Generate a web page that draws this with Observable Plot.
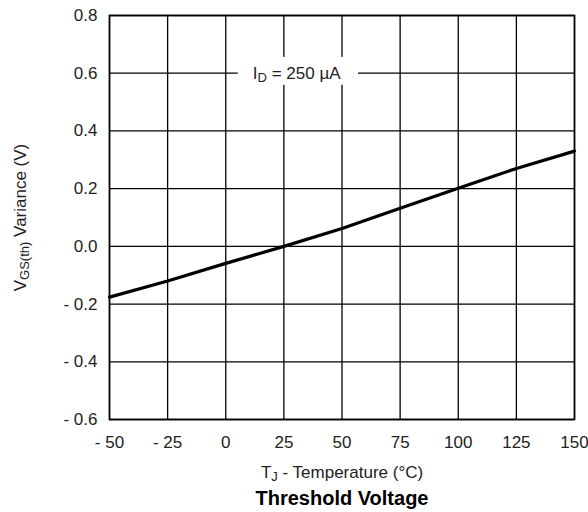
<!DOCTYPE html>
<html>
<head>
<meta charset="utf-8">
<script src="https://cdn.jsdelivr.net/npm/d3@7"></script>
<script src="https://cdn.jsdelivr.net/npm/@observablehq/plot@0.6"></script>
<style>
  html, body { margin: 0; padding: 0; background: #fff; }
  svg { font-family: "Liberation Sans", Arial, sans-serif; }
</style>
</head>
<body>
<div id="chart"></div>
<script>
const temps = [-50, -25, 0, 25, 50, 75, 100, 125, 150];
const variance = [-0.176, -0.120, -0.059, 0.0, 0.062, 0.132, 0.201, 0.270, 0.330];
const xTicks = [-50, -25, 0, 25, 50, 75, 100, 125, 150];
const yTicks = [-0.6, -0.4, -0.2, 0.0, 0.2, 0.4, 0.6, 0.8];
const conditionLabel = "I_D = 250 µA";
const xLabel = "T_J - Temperature (°C)";
const yLabel = "V_GS(th) Variance (V)";
const title = "Threshold Voltage";

const data = temps.map((t, i) => ({t, v: variance[i]}));
const fmtX = d => d < 0 ? "- " + Math.abs(d) : String(d);
const fmtY = d => d < 0 ? "- " + Math.abs(d).toFixed(1) : d.toFixed(1);

const chart = Plot.plot({
  width: 588,
  height: 512,
  marginLeft: 109,
  marginRight: 14,
  marginTop: 15,
  marginBottom: 93,
  style: {fontFamily: "Liberation Sans, Arial, sans-serif", fontSize: "17px", color: "#222", background: "#fff"},
  x: {domain: [-50, 150], label: null},
  y: {domain: [-0.6, 0.8], label: null},
  marks: [
    Plot.ruleX(xTicks, {stroke: "#000", strokeWidth: 1.3}),
    Plot.ruleY(yTicks, {stroke: "#000", strokeWidth: 1.3}),
    Plot.axisX({ticks: xTicks, tickFormat: fmtX, tickSize: 0, tickPadding: 16, fontSize: 17, fill: "#222", label: null}),
    Plot.axisY({ticks: yTicks, tickFormat: fmtY, tickSize: 0, tickPadding: 12, fontSize: 17, fill: "#222", label: null}),
    Plot.rect([conditionLabel], {x1: 5.4, x2: 57.1, y1: 0.558, y2: 0.655, fill: "#fff"}),
    Plot.text([conditionLabel], {x: 30.5, y: 0.6, text: d => d, fontSize: 17, fill: "#222", className: "cond"}),
    Plot.frame({stroke: "#000", strokeWidth: 1.6}),
    Plot.line(data, {x: "t", y: "v", stroke: "#000", strokeWidth: 3.2, strokeLinejoin: "round"}),
    Plot.text([xLabel], {frameAnchor: "bottom", lineAnchor: "middle", dy: 53, text: d => d, fontSize: 17, fill: "#222", className: "xlab"}),
    Plot.text([title], {frameAnchor: "bottom", lineAnchor: "middle", dy: 79, text: d => d, fontSize: 20, fontWeight: "bold", fill: "#000"}),
    Plot.text([yLabel], {frameAnchor: "left", textAnchor: "middle", lineAnchor: "middle", dx: -89, rotate: -90, text: d => d, fontSize: 17, fill: "#222", className: "ylab"})
  ]
});

document.getElementById("chart").appendChild(chart);

const sub = (base, s, rest) => base + '<tspan baseline-shift="-25%" font-size="13">' + s + '</tspan>' + rest;
d3.select(chart).selectAll("g.cond text").html(sub("I", "D", " = 250 µA"));
d3.select(chart).selectAll("g.xlab text").html(sub("T", "J", " - Temperature (°C)"));
d3.select(chart).selectAll("g.ylab text").html(sub("V", "GS(th)", " Variance (V)"));
</script>
</body>
</html>
